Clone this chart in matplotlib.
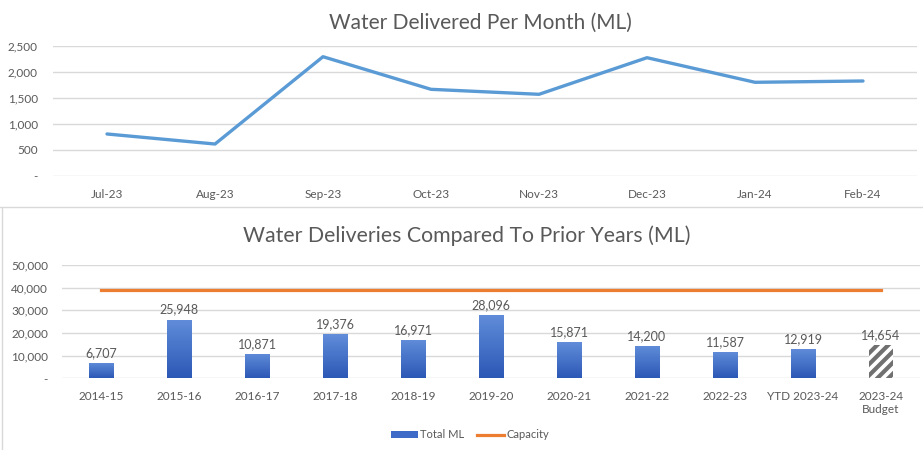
import matplotlib
matplotlib.use("Agg")
import matplotlib.pyplot as plt
import numpy as np
from matplotlib.colors import LinearSegmentedColormap
from matplotlib.lines import Line2D
from matplotlib.patches import Patch

plt.rcParams['font.family'] = ['Lato', 'DejaVu Sans']
plt.rcParams['hatch.linewidth'] = 3.0

# ---- data ----
months = ["Jul-23", "Aug-23", "Sep-23", "Oct-23", "Nov-23", "Dec-23", "Jan-24", "Feb-24"]
monthly_ml = [808, 615, 2294, 1667, 1571, 2275, 1802, 1827]

years = ["2014-15", "2015-16", "2016-17", "2017-18", "2018-19", "2019-20",
         "2020-21", "2021-22", "2022-23", "YTD 2023-24", "2023-24\nBudget"]
total_ml = [6707, 25948, 10871, 19376, 16971, 28096, 15871, 14200, 11587, 12919, 14654]
capacity = [38770] * len(years)

top_yticks = [0, 500, 1000, 1500, 2000, 2500]
bot_yticks = [0, 10000, 20000, 30000, 40000, 50000]

W, H = 923, 450
fig = plt.figure(figsize=(W / 100, H / 100), dpi=100)

txt = "#595959"
grid = "#D9D9D9"

def fmt(v):
    return "-" if v == 0 else f"{v:,}"

# ---- top chart ----
ax1 = fig.add_axes([53 / W, (H - 176) / H, (917 - 53) / W, (176 - 46) / H])
x1 = np.arange(len(months))
ax1.plot(x1, monthly_ml, color="#5B9BD5", lw=2.4, solid_capstyle="round")
ax1.set_xlim(-0.5, len(months) - 0.5)
ax1.set_ylim(0, 2500)
ax1.set_yticks(top_yticks)
ax1.set_yticklabels([fmt(v) for v in top_yticks])
ax1.set_xticks(x1)
ax1.set_xticklabels(months)
ax1.grid(axis="y", color=grid, lw=1)
ax1.set_axisbelow(True)
for s in ax1.spines.values():
    s.set_visible(False)
ax1.tick_params(length=0, labelsize=8.5, labelcolor=txt)
ax1.tick_params(axis="y", pad=11)
ax1.tick_params(axis="x", pad=9)
fig.text(480 / W, 1 - 23 / H, "Water Delivered Per Month (ML)", ha="center", va="center",
         fontsize=15, color=txt)

# separator between the two charts
fig.add_artist(Line2D([0, 1], [1 - 207 / H, 1 - 207 / H], transform=fig.transFigure,
                      color=grid, lw=1))
fig.add_artist(Line2D([2 / W, 2 / W], [0, 1 - 208 / H], transform=fig.transFigure,
                      color=grid, lw=1))

# ---- bottom chart ----
ax2 = fig.add_axes([62 / W, (H - 378.3) / H, (920 - 62) / W, (378.3 - 265) / H])
x2 = np.arange(len(years))
ax2.set_xlim(-0.5, len(years) - 0.5)
ax2.set_ylim(0, 50000)
cmap = LinearSegmentedColormap.from_list("bar", ["#2C58B6", "#618DDA"])
grad = np.linspace(0, 1, 256).reshape(-1, 1)
bars = ax2.bar(x2[:-1], total_ml[:-1], width=0.31, color="#3E6BC8", zorder=2)
for b in bars:
    bx, by, bw, bh = b.get_x(), b.get_y(), b.get_width(), b.get_height()
    im = ax2.imshow(grad, cmap=cmap, origin="lower", aspect="auto",
                    extent=[bx, bx + bw, by, by + bh], zorder=2.1)
    im.set_clip_path(b)
ax2.bar(x2[-1:], total_ml[-1:], width=0.31, color="white", edgecolor="#707070",
        hatch="///", lw=0, zorder=2)
ax2.plot(x2, capacity, color="#ED7D31", lw=2.3, zorder=3)
for xi, v in zip(x2, total_ml):
    ax2.text(xi, v + 1700, f"{v:,}", ha="center", va="bottom", fontsize=9, color=txt)
ax2.set_yticks(bot_yticks)
ax2.set_yticklabels([fmt(v) for v in bot_yticks])
ax2.set_xticks(x2)
ax2.set_xticklabels(years)
ax2.grid(axis="y", color=grid, lw=1)
ax2.set_axisbelow(True)
for s in ax2.spines.values():
    s.set_visible(False)
ax2.tick_params(length=0, labelsize=8.5, labelcolor=txt)
ax2.tick_params(axis="y", pad=10)
ax2.tick_params(axis="x", pad=9)
fig.text(467 / W, 1 - 236 / H, "Water Deliveries Compared To Prior Years (ML)", ha="center",
         va="center", fontsize=15.3, color=txt)

handles = [Patch(facecolor="#3E6BC8", edgecolor="none"),
           Line2D([0], [0], color="#ED7D31", lw=2.3)]
fig.legend(handles, ["Total ML", "Capacity"], loc="center", bbox_to_anchor=(470 / W, 1 - 435 / H),
           ncol=2, frameon=False, fontsize=8, labelcolor=txt, handlelength=2.4,
           handleheight=0.5, handletextpad=0.2, columnspacing=1.2)

fig.savefig("out.png", dpi=100, facecolor="white")
